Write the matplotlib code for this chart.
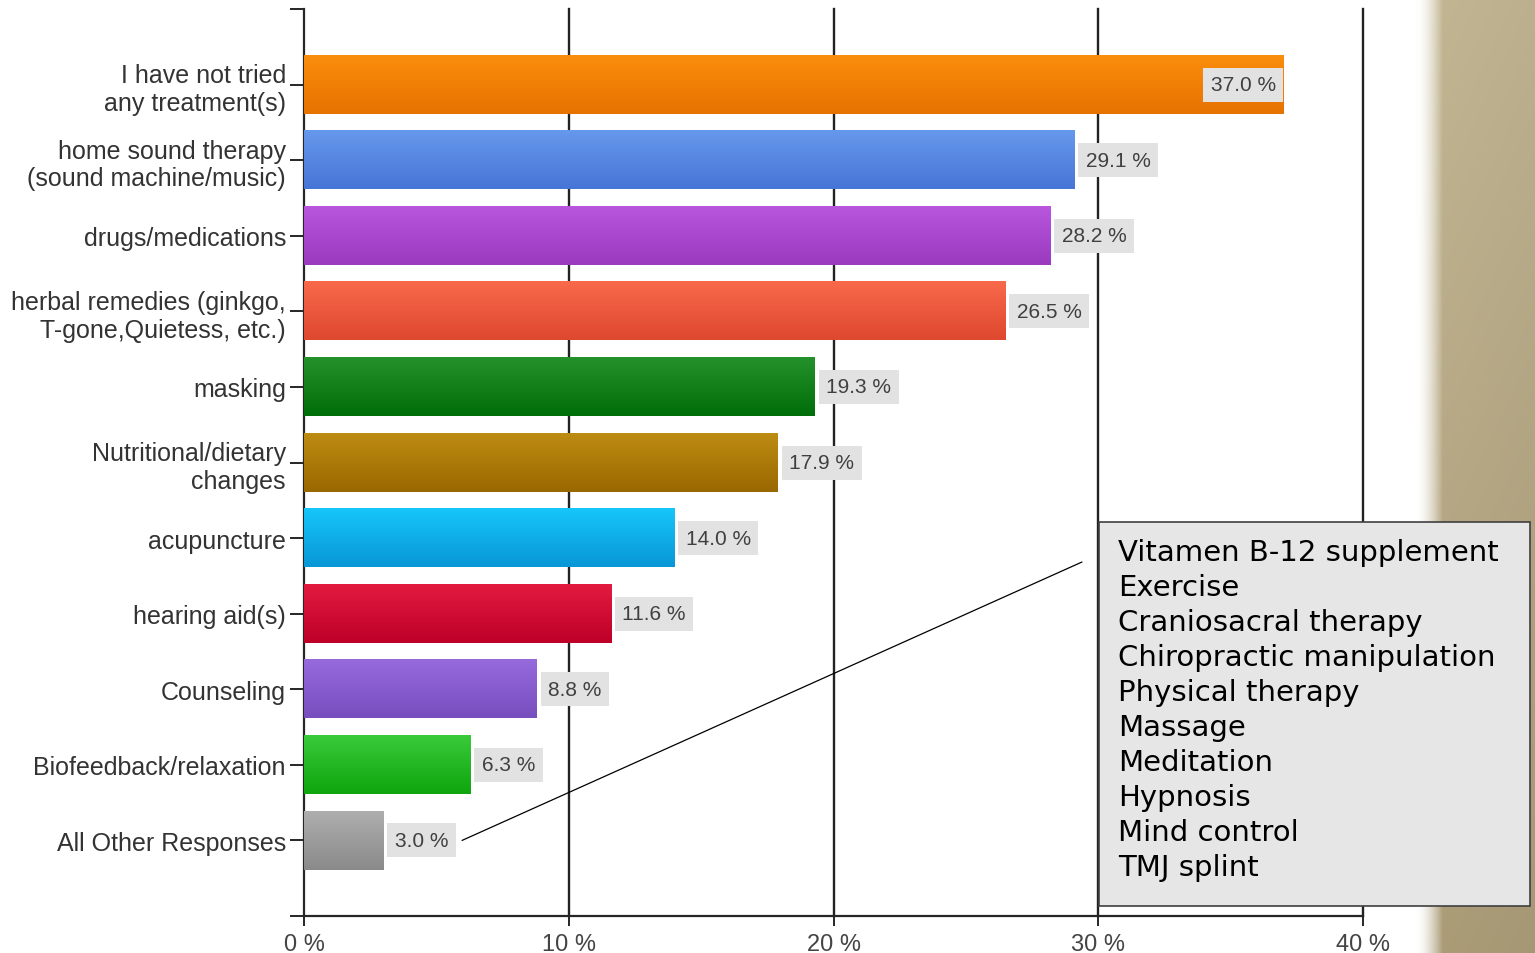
import matplotlib
matplotlib.use("Agg")
import matplotlib.pyplot as plt
import numpy as np
from matplotlib.colors import LinearSegmentedColormap, to_rgb
from matplotlib.patches import Rectangle

W, H = 1535, 954

categories = [
    "I have not tried\nany treatment(s)",
    "home sound therapy\n(sound machine/music)",
    "drugs/medications",
    "herbal remedies (ginkgo,\nT-gone,Quietess, etc.)",
    "masking",
    "Nutritional/dietary\nchanges",
    "acupuncture",
    "hearing aid(s)",
    "Counseling",
    "Biofeedback/relaxation",
    "All Other Responses",
]
values = [37.0, 29.1, 28.2, 26.5, 19.3, 17.9, 14.0, 11.6, 8.8, 6.3, 3.0]
# (top, bottom) colours of each bar's vertical gradient
bar_colors = [
    ("#fb8d0c", "#e67200"),
    ("#6698ec", "#4775d6"),
    ("#b857de", "#9a3abf"),
    ("#f9694c", "#de482e"),
    ("#25912b", "#006e08"),
    ("#bd8c12", "#9a6800"),
    ("#16c6fa", "#0896d6"),
    ("#e21a40", "#be0028"),
    ("#966adc", "#784ebf"),
    ("#3aca3a", "#0ea60e"),
    ("#aeaeae", "#8a8a8a"),
]
x_ticks = [0, 10, 20, 30, 40]
x_ticklabels = ["0 %", "10 %", "20 %", "30 %", "40 %"]
other_responses = [
    "Vitamen B-12 supplement",
    "Exercise",
    "Craniosacral therapy",
    "Chiropractic manipulation",
    "Physical therapy",
    "Massage",
    "Meditation",
    "Hypnosis",
    "Mind control",
    "TMJ splint",
]

fig = plt.figure(figsize=(W / 100, H / 100), dpi=100)
fig.patch.set_facecolor("white")

# tan slide border on the right
bg_left = 1405
bg = fig.add_axes([bg_left / W, 0, (W - bg_left) / W, 1], zorder=0)
nx, ny = 260, 100
gx = np.linspace(0, 1, nx)
gy = np.linspace(0, 1, ny)
tan_top = np.array(to_rgb("#c4b794"))
tan_bot = np.array(to_rgb("#ad9e79"))
fade = np.clip((gx - 0.09) / 0.2, 0, 1) ** 1.6
img = np.zeros((ny, nx, 3))
for j, t in enumerate(gy):
    tan = tan_top * (1 - t) + tan_bot * t
    img[j] = (1 - fade)[:, None] * 1.0 + fade[:, None] * tan[None, :] * (1 - 0.04 * gx[:, None])
bg.imshow(img, aspect="auto", extent=(0, 1, 1, 0))
bg.set_axis_off()

ax = fig.add_axes([304 / W, 37 / H, (1363 - 304) / W, (917 - 10) / H], zorder=1)
ax.set_facecolor("none")

y = np.arange(len(categories))
bars = ax.barh(y, values, height=0.77, color=[c[1] for c in bar_colors], zorder=3)

for patch, (top, bot) in zip(bars, bar_colors):
    x0, y0 = patch.get_x(), patch.get_y()
    w, h = patch.get_width(), patch.get_height()
    cmap = LinearSegmentedColormap.from_list("g", [top, bot])
    grad = np.linspace(0, 1, 64).reshape(-1, 1)
    ax.imshow(grad, cmap=cmap, aspect="auto", extent=(x0, x0 + w, y0 + h, y0),
              zorder=3.5, interpolation="bilinear")

ax.set_xlim(0, 40)
ax.set_ylim(len(categories), -1)

for x in x_ticks[1:]:
    ax.axvline(x, color="#222222", lw=1.7, zorder=2, clip_on=False)

for i, v in enumerate(values):
    label = f"{v:.1f} %"
    box = dict(boxstyle="square,pad=0.36", facecolor="#e2e2e2", edgecolor="none")
    if v > 35:
        ax.text(v - 0.3, i, label, ha="right", va="center", fontsize=15,
                color="#404040", bbox=box, zorder=5, family="Liberation Sans")
    else:
        ax.text(v + 0.42, i, label, ha="left", va="center", fontsize=15,
                color="#404040", bbox=box, zorder=5, family="Liberation Sans")

for s in ["top", "right"]:
    ax.spines[s].set_visible(False)
ax.spines["left"].set_color("#262626")
ax.spines["bottom"].set_color("#262626")
ax.spines["left"].set_linewidth(1.6)
ax.spines["bottom"].set_linewidth(1.6)

ax.set_yticks(list(y) + [-1, len(categories)])
ax.set_yticklabels(categories + ["", ""], fontsize=18, color="#333333",
                   family="Liberation Sans", linespacing=1.2)
ax.tick_params(axis="y", length=10, width=1.4, color="#262626", pad=3)

ax.set_xticks(x_ticks)
ax.set_xticklabels(x_ticklabels, fontsize=17, color="#444444", family="Liberation Sans")
ax.tick_params(axis="x", length=7, width=1.4, color="#262626", pad=5)

# callout box listing the "other" responses
box_l, box_t, box_r, box_b = 1099, 523, 1530, 907
fig.patches.append(Rectangle((box_l / W, 1 - box_b / H), (box_r - box_l) / W,
                             (box_b - box_t) / H, transform=fig.transFigure,
                             facecolor="#e6e6e6", edgecolor="#404040", lw=1.2,
                             zorder=10))
fig.text(1118 / W, 1 - 539 / H, "\n".join(other_responses), ha="left", va="top",
         fontsize=21, family="DejaVu Sans", color="black", linespacing=1.32,
         zorder=11)

last = len(values) - 1
ax.annotate("", xy=(values[last] + 2.97, last), xycoords="data",
            xytext=(1082 / W, 1 - 563 / H), textcoords="figure fraction",
            arrowprops=dict(arrowstyle="-", color="black", lw=0.9,
                            shrinkA=0, shrinkB=0), zorder=6)

fig.savefig("out.png", dpi=100)
